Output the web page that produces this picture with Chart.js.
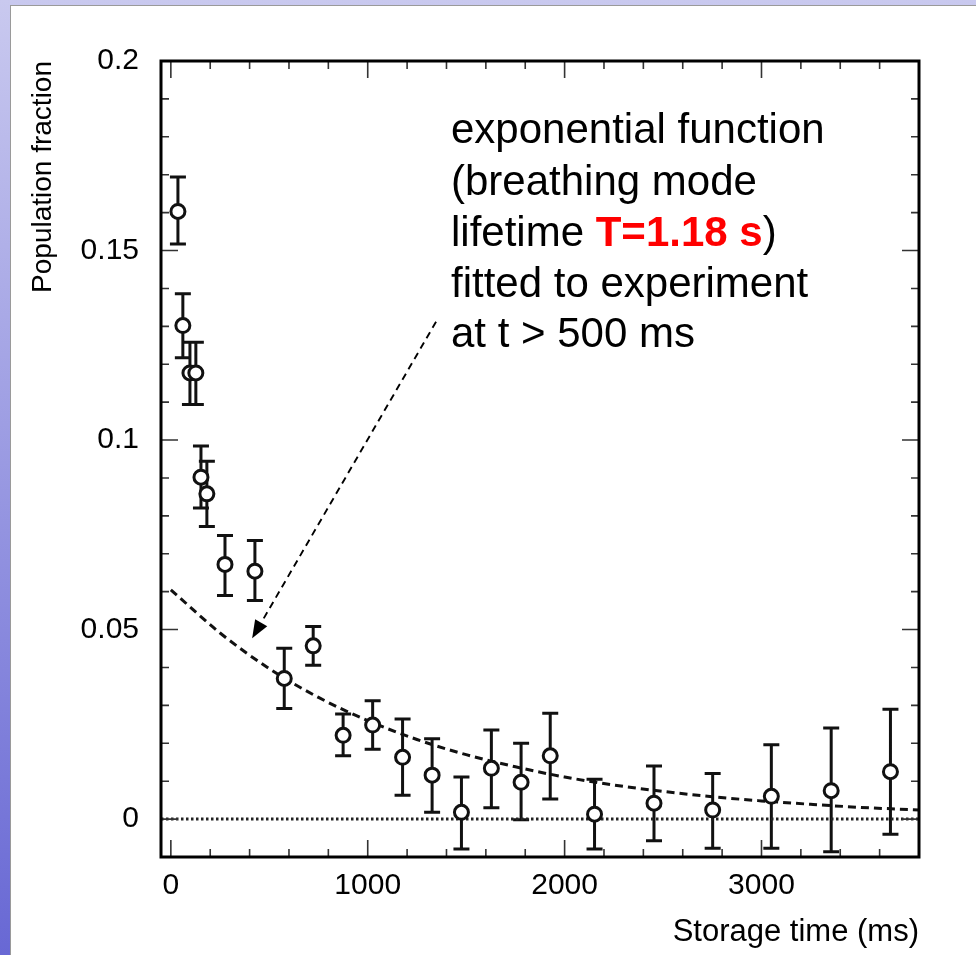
<!DOCTYPE html>
<html>
<head>
<meta charset="utf-8">
<title>Population fraction vs storage time</title>
<script src="https://cdn.jsdelivr.net/npm/chart.js@4.4.1/dist/chart.umd.min.js"></script>
<style>
    html, body { margin: 0; padding: 0; }
    body {
        width: 976px; height: 955px; overflow: hidden; position: relative;
        background: linear-gradient(180deg, #c9c9ef 0%, #6868d4 100%);
    }
    #panel {
        position: absolute; left: 10px; top: 5px; width: 966px; height: 950px;
        background: #fff; border-left: 1px solid #9a9a9a; border-top: 1px solid #9a9a9a;
        box-sizing: border-box;
    }
    #wrap { position: absolute; left: 0; top: 0; width: 976px; height: 955px; }
</style>
</head>
<body>
<div id="panel"></div>
<div id="wrap"><canvas id="chart" width="976" height="955"></canvas></div>
<script>
// ----------------------------
// 1. Data
// ----------------------------
const storageTime = [36, 61, 97, 127, 153, 183, 275, 427, 576, 723, 875, 1025,
                     1177, 1327, 1476, 1628, 1779, 1927, 2152, 2454, 2752, 3050, 3354, 3655];
const population  = [0.1603, 0.1302, 0.1177, 0.1177, 0.0902, 0.0858, 0.0672, 0.0654,
                     0.0371, 0.0457, 0.0221, 0.0248, 0.0163, 0.0116, 0.0018, 0.0134,
                     0.0097, 0.0167, 0.0013, 0.0042, 0.0024, 0.0060, 0.0075, 0.0125];
const errorLow    = [0.1517, 0.1217, 0.1094, 0.1094, 0.0821, 0.0772, 0.0590, 0.0577,
                     0.0292, 0.0406, 0.0167, 0.0184, 0.0063, 0.0018, -0.0079, 0.0030,
                     -0.0002, 0.0053, -0.0079, -0.0057, -0.0077, -0.0077, -0.0086, -0.0040];
const errorHigh   = [0.1694, 0.1386, 0.1258, 0.1258, 0.0984, 0.0944, 0.0748, 0.0735,
                     0.0451, 0.0508, 0.0277, 0.0312, 0.0264, 0.0212, 0.0111, 0.0235,
                     0.0200, 0.0279, 0.0105, 0.0140, 0.0120, 0.0196, 0.0240, 0.0290];

// exponential fit curve (dashed)
const fitTime  = [0, 250, 500, 750, 1000, 1250, 1500, 1750, 2000, 2250, 2500, 2750, 3000, 3250, 3500, 3800];
const fitValue = [0.0605, 0.0491, 0.0397, 0.0321, 0.0260, 0.0210, 0.0170, 0.0138, 0.0111,
                  0.0090, 0.0073, 0.0059, 0.0048, 0.0039, 0.0031, 0.0024];

// zero reference line (dotted)
const zeroTime  = [-50, 3800];
const zeroValue = [0, 0];

// axes
const xTicks = [0, 1000, 2000, 3000];
const xTickLabels = ['0', '1000', '2000', '3000'];
const yTicks = [0, 0.05, 0.1, 0.15, 0.2];
const yTickLabels = ['0', '0.05', '0.1', '0.15', '0.2'];

// annotation arrow, in data units (tail, head)
const arrowTail = [1347, 0.1312];
const arrowHead = [413, 0.0477];

const FONT = "'Liberation Sans', Arial, Helvetica, sans-serif";
Chart.defaults.font.family = FONT;
Chart.defaults.color = '#000';

// ----------------------------
// 2. Plugins: error bars, frame + ticks, annotation
// ----------------------------
const errorBars = {
    id: 'errorBars',
    beforeDatasetsDraw(chart) {
        const { ctx, scales: { x, y } } = chart;
        ctx.save();
        ctx.strokeStyle = '#111';
        ctx.lineWidth = 3;
        ctx.beginPath();
        storageTime.forEach((t, i) => {
            const px = x.getPixelForValue(t);
            const top = y.getPixelForValue(errorHigh[i]);
            const bot = y.getPixelForValue(errorLow[i]);
            ctx.moveTo(px, top); ctx.lineTo(px, bot);
            ctx.moveTo(px - 8, top); ctx.lineTo(px + 8, top);
            ctx.moveTo(px - 8, bot); ctx.lineTo(px + 8, bot);
        });
        ctx.stroke();
        ctx.restore();
    }
};

const frameTicks = {
    id: 'frameTicks',
    afterDatasetsDraw(chart) {
        const { ctx, chartArea: a, scales: { x, y } } = chart;
        ctx.save();
        ctx.strokeStyle = '#333';
        ctx.lineWidth = 1.6;
        ctx.beginPath();
        for (let v = 0; v <= 3800; v += 200) {
            const px = x.getPixelForValue(v);
            const len = v % 1000 === 0 ? 17 : 8;
            ctx.moveTo(px, a.bottom); ctx.lineTo(px, a.bottom - len);
            ctx.moveTo(px, a.top); ctx.lineTo(px, a.top + len);
        }
        for (let i = 0; i <= 20; i++) {
            const py = y.getPixelForValue(i / 100);
            const len = i % 5 === 0 ? 17 : 8;
            ctx.moveTo(a.left, py); ctx.lineTo(a.left + len, py);
            ctx.moveTo(a.right, py); ctx.lineTo(a.right - len, py);
        }
        ctx.stroke();

        ctx.strokeStyle = '#000';
        ctx.lineWidth = 3;
        ctx.strokeRect(a.left, a.top, a.right - a.left, a.bottom - a.top);
        ctx.restore();
    }
};

const annotation = {
    id: 'annotation',
    afterDraw(chart) {
        const { ctx, scales: { x, y } } = chart;
        ctx.save();

        // dashed arrow
        const x0 = x.getPixelForValue(arrowTail[0]), y0 = y.getPixelForValue(arrowTail[1]);
        const x1 = x.getPixelForValue(arrowHead[0]), y1 = y.getPixelForValue(arrowHead[1]);
        const ang = Math.atan2(y1 - y0, x1 - x0);
        const headLen = 18, headHalf = 7;
        const bx = x1 - headLen * Math.cos(ang), by = y1 - headLen * Math.sin(ang);
        ctx.strokeStyle = '#000';
        ctx.lineWidth = 1.9;
        ctx.setLineDash([7, 5]);
        ctx.beginPath();
        ctx.moveTo(x0, y0); ctx.lineTo(bx, by);
        ctx.stroke();
        ctx.setLineDash([]);
        ctx.fillStyle = '#000';
        ctx.beginPath();
        ctx.moveTo(x1, y1);
        ctx.lineTo(bx + headHalf * Math.sin(ang), by - headHalf * Math.cos(ang));
        ctx.lineTo(bx - headHalf * Math.sin(ang), by + headHalf * Math.cos(ang));
        ctx.closePath();
        ctx.fill();

        // text block
        const left = 451;
        const normal = '42px ' + FONT;
        const bold = 'bold 42px ' + FONT;
        ctx.textBaseline = 'alphabetic';
        ctx.textAlign = 'left';
        ctx.font = normal;
        ctx.fillStyle = '#000';
        ctx.fillText('exponential function', left, 143);
        ctx.fillText('(breathing mode', left, 195);
        ctx.fillText('lifetime ', left, 246);
        let cx = left + ctx.measureText('lifetime ').width;
        ctx.font = bold;
        ctx.fillStyle = '#ff0000';
        ctx.fillText('T=1.18 s', cx, 246);
        cx += ctx.measureText('T=1.18 s').width;
        ctx.font = normal;
        ctx.fillStyle = '#000';
        ctx.fillText(')', cx, 246);
        ctx.fillText('fitted to experiment', left, 297);
        ctx.fillText('at t > 500 ms', left, 347);
        ctx.restore();
    }
};

// ----------------------------
// 3. Build chart
// ----------------------------
const ctx = document.getElementById('chart').getContext('2d');
new Chart(ctx, {
    type: 'scatter',
    data: {
        datasets: [
            {
                label: 'Experiment',
                data: storageTime.map((t, i) => ({ x: t, y: population[i] })),
                pointRadius: 7,
                pointHoverRadius: 7,
                pointBorderWidth: 3,
                pointBackgroundColor: '#fff',
                pointBorderColor: '#111',
                showLine: false,
                order: 0
            },
            {
                label: 'Exponential fit',
                type: 'line',
                data: fitTime.map((t, i) => ({ x: t, y: fitValue[i] })),
                borderColor: '#111',
                borderWidth: 3,
                borderDash: [8, 5],
                pointRadius: 0,
                cubicInterpolationMode: 'monotone',
                fill: false,
                order: 1
            },
            {
                label: 'Zero',
                type: 'line',
                data: zeroTime.map((t, i) => ({ x: t, y: zeroValue[i] })),
                borderColor: '#222',
                borderWidth: 3,
                borderDash: [2.5, 2.5],
                pointRadius: 0,
                fill: false,
                order: 2
            }
        ]
    },
    options: {
        responsive: false,
        animation: false,
        layout: { padding: { left: 0, top: 61, right: 57, bottom: 0 } },
        plugins: {
            legend: { display: false },
            tooltip: { enabled: false }
        },
        scales: {
            x: {
                type: 'linear',
                position: 'bottom',
                min: -50,
                max: 3800,
                afterFit: function (scale) { scale.height = 98; },
                afterBuildTicks: function (scale) { scale.ticks = xTicks.map(v => ({ value: v })); },
                grid: { display: false, drawTicks: false },
                border: { display: false },
                ticks: {
                    padding: 11,
                    maxRotation: 0,
                    autoSkip: false,
                    color: '#000',
                    font: { size: 30 },
                    callback: function (value, index) { return xTickLabels[index]; }
                },
                title: {
                    display: true,
                    text: 'Storage time (ms)',
                    align: 'end',
                    color: '#000',
                    font: { size: 31 },
                    padding: { top: 0, bottom: 4 }
                }
            },
            y: {
                type: 'linear',
                position: 'left',
                min: -0.01,
                max: 0.2,
                afterFit: function (scale) { scale.width = 161; },
                afterBuildTicks: function (scale) { scale.ticks = yTicks.map(v => ({ value: v })); },
                grid: { display: false, drawTicks: false },
                border: { display: false },
                ticks: {
                    padding: 22,
                    autoSkip: false,
                    color: '#000',
                    font: { size: 30 },
                    callback: function (value, index) { return yTickLabels[index]; }
                },
                title: {
                    display: true,
                    text: 'Population fraction',
                    align: 'end',
                    color: '#000',
                    font: { size: 28 },
                    padding: { top: 26, bottom: 0 }
                }
            }
        }
    },
    plugins: [errorBars, frameTicks, annotation]
});
</script>
</body>
</html>
